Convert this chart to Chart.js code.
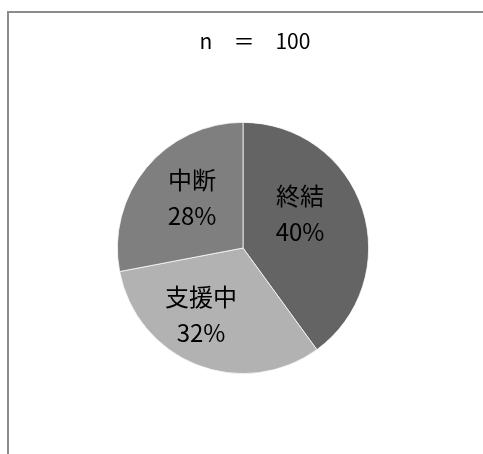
<!DOCTYPE html>
<html lang="ja">
<head>
<meta charset="utf-8">
<script src="https://cdn.jsdelivr.net/npm/chart.js@4.4.0/dist/chart.umd.min.js"></script>
<style>
  html, body { margin: 0; padding: 0; background: #fff; overflow: hidden; }
  .frame { position: relative; width: 483px; height: 454px; overflow: hidden; }
  /* chart box border, only top and left edges fall inside the view */
  .frame::before {
    content: "";
    position: absolute;
    left: 7px;
    top: 11px;
    width: 700px;
    height: 700px;
    border-left: 2px solid #8c8c8c;
    border-top: 2px solid #8c8c8c;
  }
  canvas { position: absolute; left: 0; top: 0; }
</style>
</head>
<body>
<div class="frame">
  <canvas id="statusPie" width="483" height="454"></canvas>
</div>
<script>
const labels = ["終結", "支援中", "中断"];
const counts = [40, 32, 28];
const sampleSize = 100;
const sliceColors = ["#646464", "#b2b2b2", "#7f7f7f"];

const FONT = '"Noto Sans CJK JP", "Noto Sans", sans-serif';

// name + percent drawn inside each slice
const sliceLabels = {
  id: "sliceLabels",
  afterDatasetsDraw(chart, args, opts) {
    const { ctx } = chart;
    const meta = chart.getDatasetMeta(0);
    const total = counts.reduce((a, b) => a + b, 0);
    ctx.save();
    ctx.font = opts.font;
    ctx.fillStyle = opts.color;
    ctx.textAlign = "center";
    ctx.textBaseline = "middle";
    meta.data.forEach((arc, i) => {
      // spot = [fraction along the sweep, fraction of radius]
      const [t, f] = opts.spots[i];
      const a = arc.startAngle + (arc.endAngle - arc.startAngle) * t;
      const r = arc.outerRadius * f;
      const x = arc.x + Math.cos(a) * r;
      const y = arc.y + Math.sin(a) * r;
      const pct = Math.round((counts[i] / total) * 100) + "%";
      ctx.fillText(labels[i], x, y - opts.lineGap / 2);
      ctx.fillText(pct, x, y + opts.lineGap / 2);
    });
    ctx.restore();
  },
};

// "n = 100" heading, sits a bit right of the pie centre
const sampleTitle = {
  id: "sampleTitle",
  afterDraw(chart, args, opts) {
    const { ctx } = chart;
    ctx.save();
    ctx.font = opts.font;
    ctx.fillStyle = opts.color;
    ctx.textAlign = "center";
    ctx.textBaseline = "middle";
    ctx.fillText(opts.text, opts.x, opts.y);
    ctx.restore();
  },
};

new Chart(document.getElementById("statusPie"), {
  type: "pie",
  data: {
    labels: labels,
    datasets: [
      {
        data: counts,
        backgroundColor: sliceColors,
        borderColor: "#ffffff",
        borderWidth: 0.75,
      },
    ],
  },
  options: {
    responsive: false,
    animation: false,
    devicePixelRatio: 1,
    layout: {
      padding: { left: 117, right: 114, top: 122, bottom: 80 },
    },
    plugins: {
      legend: { display: false },
      tooltip: { enabled: false },
      title: { display: false },
      sliceLabels: {
        font: "24px " + FONT,
        color: "#000000",
        lineGap: 36,
        spots: [
          [0.41, 0.53],
          [0.59, 0.63],
          [0.55, 0.57],
        ],
      },
      sampleTitle: {
        text: "n　＝　" + sampleSize,
        font: "21px " + FONT,
        color: "#000000",
        x: 255,
        y: 41,
      },
    },
  },
  plugins: [sliceLabels, sampleTitle],
});
</script>
</body>
</html>
